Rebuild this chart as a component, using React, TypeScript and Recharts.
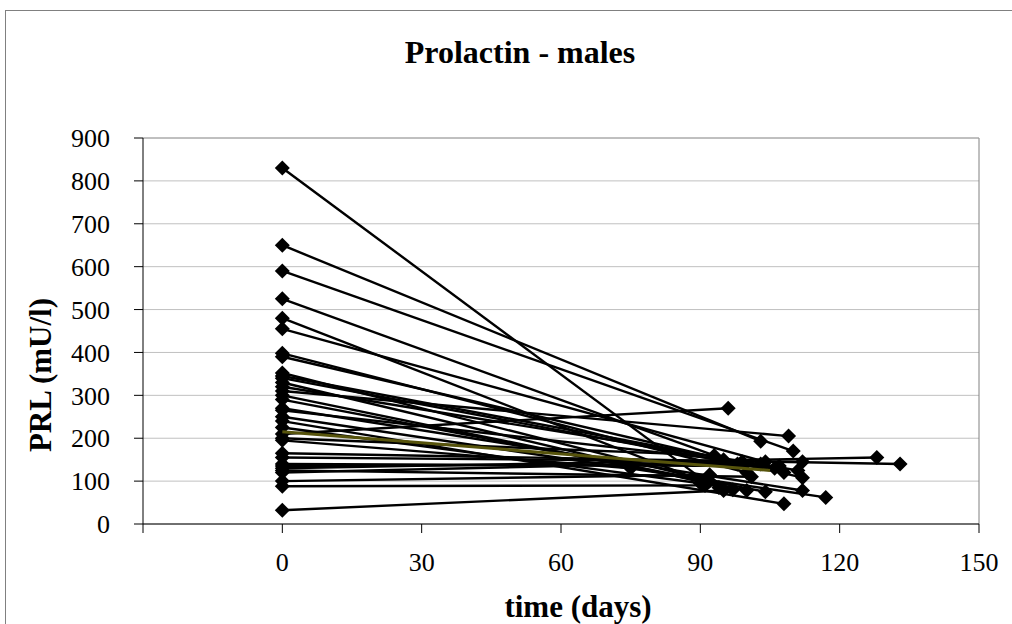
import React from 'react'
import {
  ScatterChart,
  Scatter,
  XAxis,
  YAxis,
  ZAxis,
  CartesianGrid,
  ReferenceLine,
} from 'recharts'

document.body.style.margin = '0'

// PRL at day 0 for each patient
const baselinePrl = [
  830, 650, 590, 525, 480, 455, 398, 390, 352, 345, 340, 330, 320, 310, 300,
  290, 270, 265, 250, 240, 225, 210, 200, 195, 165, 155, 140, 135, 130, 125,
  120, 100, 88, 32,
]
// day of the follow-up sample
const followDays = [
  91, 103, 110, 98, 94, 104, 100, 112, 92, 106, 108, 97, 111, 109, 100, 104,
  112, 95, 117, 108, 90, 96, 93, 75, 133, 112, 107, 103, 128, 101, 99, 92, 91,
  95,
]
// PRL at follow-up
const followPrl = [
  100, 193, 170, 140, 85, 145, 120, 108, 100, 130, 120, 80, 125, 205, 78, 75,
  78, 150, 62, 47, 95, 270, 160, 130, 140, 145, 135, 140, 155, 110, 145, 115,
  90, 78,
]
// mean line
const meanStart = 215
const meanDay = 105
const meanEnd = 125

const xTicks = [-30, 0, 30, 60, 90, 120, 150]
const yTicks = [0, 100, 200, 300, 400, 500, 600, 700, 800, 900]

const patients = baselinePrl.map((v, i) => [
  { day: 0, prl: v },
  { day: followDays[i], prl: followPrl[i] },
])
const meanData = [
  { day: 0, prl: meanStart },
  { day: meanDay, prl: meanEnd },
]

const font = '"Liberation Serif", "Times New Roman", serif'

const Diamond = (props: any) => {
  const { cx, cy } = props
  const r = 7.5
  return (
    <polygon
      points={`${cx},${cy - r} ${cx + r},${cy} ${cx},${cy + r} ${cx - r},${cy}`}
      fill="#000"
    />
  )
}

const NoMark = () => <g />

const textBase: React.CSSProperties = {
  position: 'absolute',
  fontFamily: font,
  fontWeight: 'bold',
  whiteSpace: 'nowrap',
  color: '#000',
  lineHeight: 1,
}

const App = () => {
  return (
    <div style={{ position: 'relative', width: 1012, height: 624, overflow: 'hidden', background: '#fff' }}>
      <div
        style={{
          position: 'absolute',
          left: 5,
          top: 10,
          width: 1100,
          height: 700,
          borderLeft: '1px solid #808080',
          borderTop: '1px solid #808080',
        }}
      />
      <div style={{ position: 'absolute', left: 0, top: 0 }}>
        <ScatterChart
          width={1012}
          height={624}
          margin={{ top: 138, right: 33, left: 0, bottom: 0 }}
        >
          <CartesianGrid horizontal vertical={false} stroke="#c0c0c0" />
          <ReferenceLine x={150} stroke="#808080" />
          <ReferenceLine y={900} stroke="#a0a0a0" />
          <XAxis
            type="number"
            dataKey="day"
            domain={[-30, 150]}
            ticks={xTicks}
            interval={0}
            height={100}
            stroke="#000"
            tickSize={9}
            tickMargin={20}
            tickFormatter={(v: number) => (v < 0 ? '' : String(v))}
            tick={{ fill: '#000', fontSize: 26, fontFamily: font }}
          />
          <YAxis
            type="number"
            dataKey="prl"
            domain={[0, 900]}
            ticks={yTicks}
            interval={0}
            width={143}
            stroke="#000"
            tickSize={9}
            tickMargin={24}
            tick={{ fill: '#000', fontSize: 26, fontFamily: font }}
          />
          <ZAxis range={[100, 100]} />
          {patients.map((d, i) => (
            <Scatter
              key={'p' + i}
              data={d}
              line={{ stroke: '#000', strokeWidth: 2.4 }}
              shape={Diamond}
              isAnimationActive={false}
            />
          ))}
          <Scatter
            data={meanData}
            line={{ stroke: '#57540c', strokeWidth: 3 }}
            shape={NoMark}
            isAnimationActive={false}
          />
        </ScatterChart>
      </div>
      <div style={{ ...textBase, left: 0, width: 1040, top: 36, textAlign: 'center', fontSize: 32 }}>
        Prolactin - males
      </div>
      <div style={{ ...textBase, left: 0, width: 1156, top: 591, textAlign: 'center', fontSize: 31 }}>
        time (days)
      </div>
      <div
        style={{
          ...textBase,
          left: 40,
          top: 375,
          fontSize: 31,
          transform: 'translate(-50%, -50%) rotate(-90deg)',
        }}
      >
        PRL (mU/l)
      </div>
    </div>
  )
}

export default App
